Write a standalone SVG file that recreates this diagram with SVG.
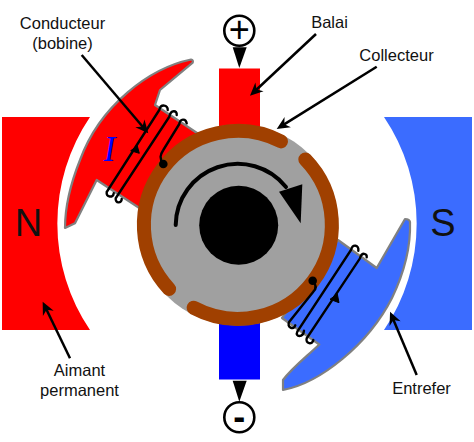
<svg xmlns="http://www.w3.org/2000/svg" width="474" height="442" viewBox="0 0 474 442">
<style>
text{font-family:"Liberation Sans",Arial,sans-serif;fill:#111}
.lab{font-size:16.5px;text-anchor:middle}
.big{font-size:38px;text-anchor:middle}
.sign{font-size:36px;text-anchor:middle;fill:#000}
.pole{stroke:#808080;stroke-width:2.2;stroke-linejoin:round}
.wire{fill:none;stroke:#000;stroke-width:2.4;stroke-linecap:round}
.leader{fill:none;stroke:#000;stroke-width:2.5;marker-end:url(#head)}
.com{fill:none;stroke:#A04000;stroke-width:14;stroke-linecap:round}
.term{fill:#fff;stroke:#000;stroke-width:2.6}
</style>
<defs>
<marker id="head" markerUnits="userSpaceOnUse" viewBox="0 0 20 16" markerWidth="20" markerHeight="16" refX="12" refY="8" orient="auto">
<path d="M3 2L16 8L3 14L7 8Z" fill="#000"/>
</marker>
</defs>
<rect width="474" height="442" fill="#fff"/>
<g id="aimant-n">
<path d="M2 117H90A190 190 0 0 0 90 330H2Z" fill="#FF0000"/>
<text class="big" x="28.5" y="236">N</text>
</g>
<g id="aimant-s">
<path d="M472 117H384A190 190 0 0 1 384 330H472Z" fill="#3B6CFF"/>
<text class="big" x="443" y="235.5">S</text>
</g>
<g id="pole-gauche">
<path class="pole" fill="#FF0000" d="M191 59.5C150 68 100 105 80 160C70 185 65 205 65 228L75 223.3L96.7 180L150 215L200 135L155 105L160 90L192.7 62.7Q193.5 60 191 59.5Z"/>
<text x="109.5" y="160.5" style="font-family:'Liberation Serif',serif;font-style:italic;font-size:35px;fill:#0000FF;text-anchor:middle">I</text>
</g>
<g id="pole-droit">
<path class="pole" fill="#3B6CFF" d="M283 390C320 383 368 345 392 298C403 275 411 250 410 222Q409.5 219 405 219L376.7 268L338 240L282 318L319.3 344.5C305 358 292 368 283 380Z"/>
</g>
<g id="balai-haut"><rect x="219" y="68.5" width="41" height="65" fill="#FF0000"/></g>
<g id="balai-bas"><rect x="219" y="315" width="41" height="64.5" fill="#0000FF"/></g>
<g id="rotor">
<circle cx="238" cy="225" r="100.5" fill="#A0A0A0"/>
<path class="com" d="M281 141.4A94 94 0 0 0 169.1 289"/>
<path class="com" d="M305.3 159.4A94 94 0 0 1 193.6 307.8"/>
<circle cx="238.7" cy="225.3" r="39.5" fill="#000"/>
<path d="M175.7 225A62 62 0 0 1 286 187" fill="none" stroke="#000" stroke-width="4" stroke-linecap="round"/>
<path d="M279 191.7L302.3 184.3L300.7 223.3Z" fill="#000"/>
</g>
<g id="bobine-gauche">
<path class="wire" d="M113.7 193.3C113.3 198.3 106 197.3 106.7 192L159.3 110C160.7 103.3 168.3 105 167.7 110"/>
<path class="wire" d="M121.7 199C121.7 204 115 203.3 115.7 198.3L169.3 116.7C170.7 109.3 177.3 110 176.7 115"/>
<path class="wire" d="M186.7 123.3C186 118.3 180 118.3 179.3 124L163.3 150C160 155 159.3 158.3 163.3 164"/>
<circle cx="163.3" cy="164" r="4.3" fill="#000"/>
<path d="M130.7 150.7L139.3 153.3L137.3 146Z" fill="#000" stroke="#000"/>
</g>
<g id="bobine-droite">
<path class="wire" d="M312.7 280.7C316.7 285 316.7 288.3 313.3 291.7L289.3 321.7C286 327.3 294 330.7 295.3 325.3"/>
<path class="wire" d="M304 330.7C303.3 338 294.7 337 297.3 331.7L351 250C352.7 243.3 359.3 245 358.3 250.7"/>
<path class="wire" d="M313.3 340C312.7 345 305 344 306.7 338.3L360 258.3C361.7 251.7 367.3 253.3 366.7 257.3"/>
<circle cx="312.7" cy="280.7" r="4.3" fill="#000"/>
<path d="M330 299.3L339 302.7L337.3 294Z" fill="#000" stroke="#000"/>
</g>
<g id="borne-plus">
<circle class="term" cx="239.3" cy="30.7" r="15"/>
<text class="sign" x="239.3" y="42">+</text>
<path d="M232.7 47.3H246.7L239.3 68Z" fill="#000"/>
</g>
<g id="borne-moins">
<circle class="term" cx="239.3" cy="417.3" r="15"/>
<text class="sign" x="239.3" y="428.5" font-weight="bold">-</text>
<path d="M232.7 380.7H246.7L239.3 401.7Z" fill="#000"/>
</g>
<g id="connecteurs">
<path class="leader" d="M81.7 55L145.7 130.3"/>
<path class="leader" d="M316 34L252.9 93"/>
<path class="leader" d="M376.7 66.7L280.1 126.9"/>
<path class="leader" d="M70 358.3L44.4 305.3"/>
<path class="leader" d="M416.7 375L391.6 315.4"/>
</g>
<g id="etiquettes">
<text class="lab" x="62.5" y="28.5">Conducteur</text>
<text class="lab" x="62.5" y="48.5">(bobine)</text>
<text class="lab" x="329.5" y="27.5">Balai</text>
<text class="lab" x="396.5" y="60.5">Collecteur</text>
<text class="lab" x="79.5" y="376">Aimant</text>
<text class="lab" x="79.5" y="396">permanent</text>
<text class="lab" x="421.5" y="394">Entrefer</text>
</g>
</svg>
